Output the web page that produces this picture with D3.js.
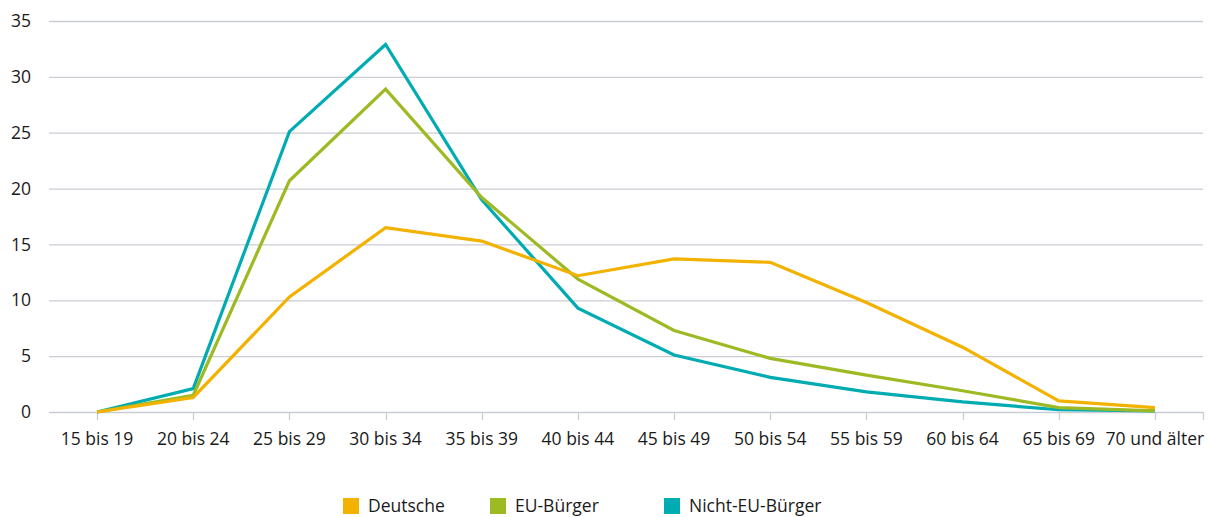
<!DOCTYPE html>
<html>
<head>
<meta charset="utf-8">
<script src="https://cdn.jsdelivr.net/npm/d3@7"></script>
<style>
  body { margin: 0; background: #fff; }
  svg text { font-family: "Open Sans", "Noto Sans", sans-serif; font-size: 17.5px; fill: #1a1a1a; }
</style>
</head>
<body>
<script>
var categories = ["15 bis 19", "20 bis 24", "25 bis 29", "30 bis 34", "35 bis 39", "40 bis 44",
    "45 bis 49", "50 bis 54", "55 bis 59", "60 bis 64", "65 bis 69", "70 und älter"];
var deutsche = [0, 1.3, 10.3, 16.5, 15.3, 12.2, 13.7, 13.4, 9.8, 5.8, 1.0, 0.4];
var euBuerger = [0, 1.5, 20.7, 28.9, 19.2, 11.9, 7.3, 4.8, 3.3, 1.9, 0.4, 0.1];
var nichtEu = [0, 2.1, 25.1, 32.9, 19.0, 9.3, 5.1, 3.1, 1.8, 0.9, 0.2, 0.1];
var yTicks = [0, 5, 10, 15, 20, 25, 30, 35];

var series = [
    { name: "Nicht-EU-Bürger", values: nichtEu, color: "#00abb1" },
    { name: "EU-Bürger", values: euBuerger, color: "#9dba24" },
    { name: "Deutsche", values: deutsche, color: "#f3b200" }
];
var legendOrder = ["Deutsche", "EU-Bürger", "Nicht-EU-Bürger"];

var width = 1210, height = 517;
var svg = d3.select("body").append("svg")
    .attr("width", width)
    .attr("height", height);

var x = d3.scaleBand()
    .domain(categories)
    .range([49, 1203]);

var y = d3.scaleLinear()
    .domain([0, 35])
    .range([412, 21]);

// gridlines
svg.append("g")
    .selectAll("line")
    .data(yTicks)
    .enter().append("line")
    .attr("x1", 49)
    .attr("x2", 1203)
    .attr("y1", function (d) { return y(d) + 0.5; })
    .attr("y2", function (d) { return y(d) + 0.5; })
    .attr("stroke", "#c9cdd3")
    .attr("stroke-width", 1.3);

// y labels
svg.append("g")
    .selectAll("text")
    .data(yTicks)
    .enter().append("text")
    .attr("x", 31)
    .attr("y", function (d) { return y(d); })
    .attr("dy", "0.35em")
    .attr("text-anchor", "end")
    .text(function (d) { return d; });

// x axis ticks
var tickXs = categories.map(function (c) { return x(c) + x.bandwidth() / 2; });
tickXs.push(1203);
svg.append("g")
    .selectAll("line")
    .data(tickXs)
    .enter().append("line")
    .attr("x1", function (d) { return Math.round(d) + 0.5; })
    .attr("x2", function (d) { return Math.round(d) + 0.5; })
    .attr("y1", y(0))
    .attr("y2", y(0) + 8)
    .attr("stroke", "#c9cdd3")
    .attr("stroke-width", 1.3);

svg.append("g")
    .selectAll("text")
    .data(categories)
    .enter().append("text")
    .attr("x", function (d) { return x(d) + x.bandwidth() / 2; })
    .attr("y", 445)
    .attr("text-anchor", "middle")
    .text(function (d) { return d; });

// lines
var line = d3.line()
    .x(function (d, i) { return x(categories[i]) + x.bandwidth() / 2; })
    .y(function (d) { return y(d); });

svg.append("g")
    .selectAll("path")
    .data(series)
    .enter().append("path")
    .attr("d", function (d) { return line(d.values); })
    .attr("fill", "none")
    .attr("stroke", function (d) { return d.color; })
    .attr("stroke-width", 3.2)
    .attr("stroke-linejoin", "miter");

// legend
var legendX = [343, 490, 664];
var legend = svg.append("g")
    .selectAll("g")
    .data(legendOrder)
    .enter().append("g")
    .attr("transform", function (d, i) { return "translate(" + legendX[i] + ",498)"; });

legend.append("rect")
    .attr("width", 16)
    .attr("height", 16)
    .attr("fill", function (d) {
        return series.filter(function (s) { return s.name === d; })[0].color;
    });

legend.append("text")
    .attr("x", 25)
    .attr("y", 8)
    .attr("dy", "0.35em")
    .text(function (d) { return d; });
</script>
</body>
</html>
